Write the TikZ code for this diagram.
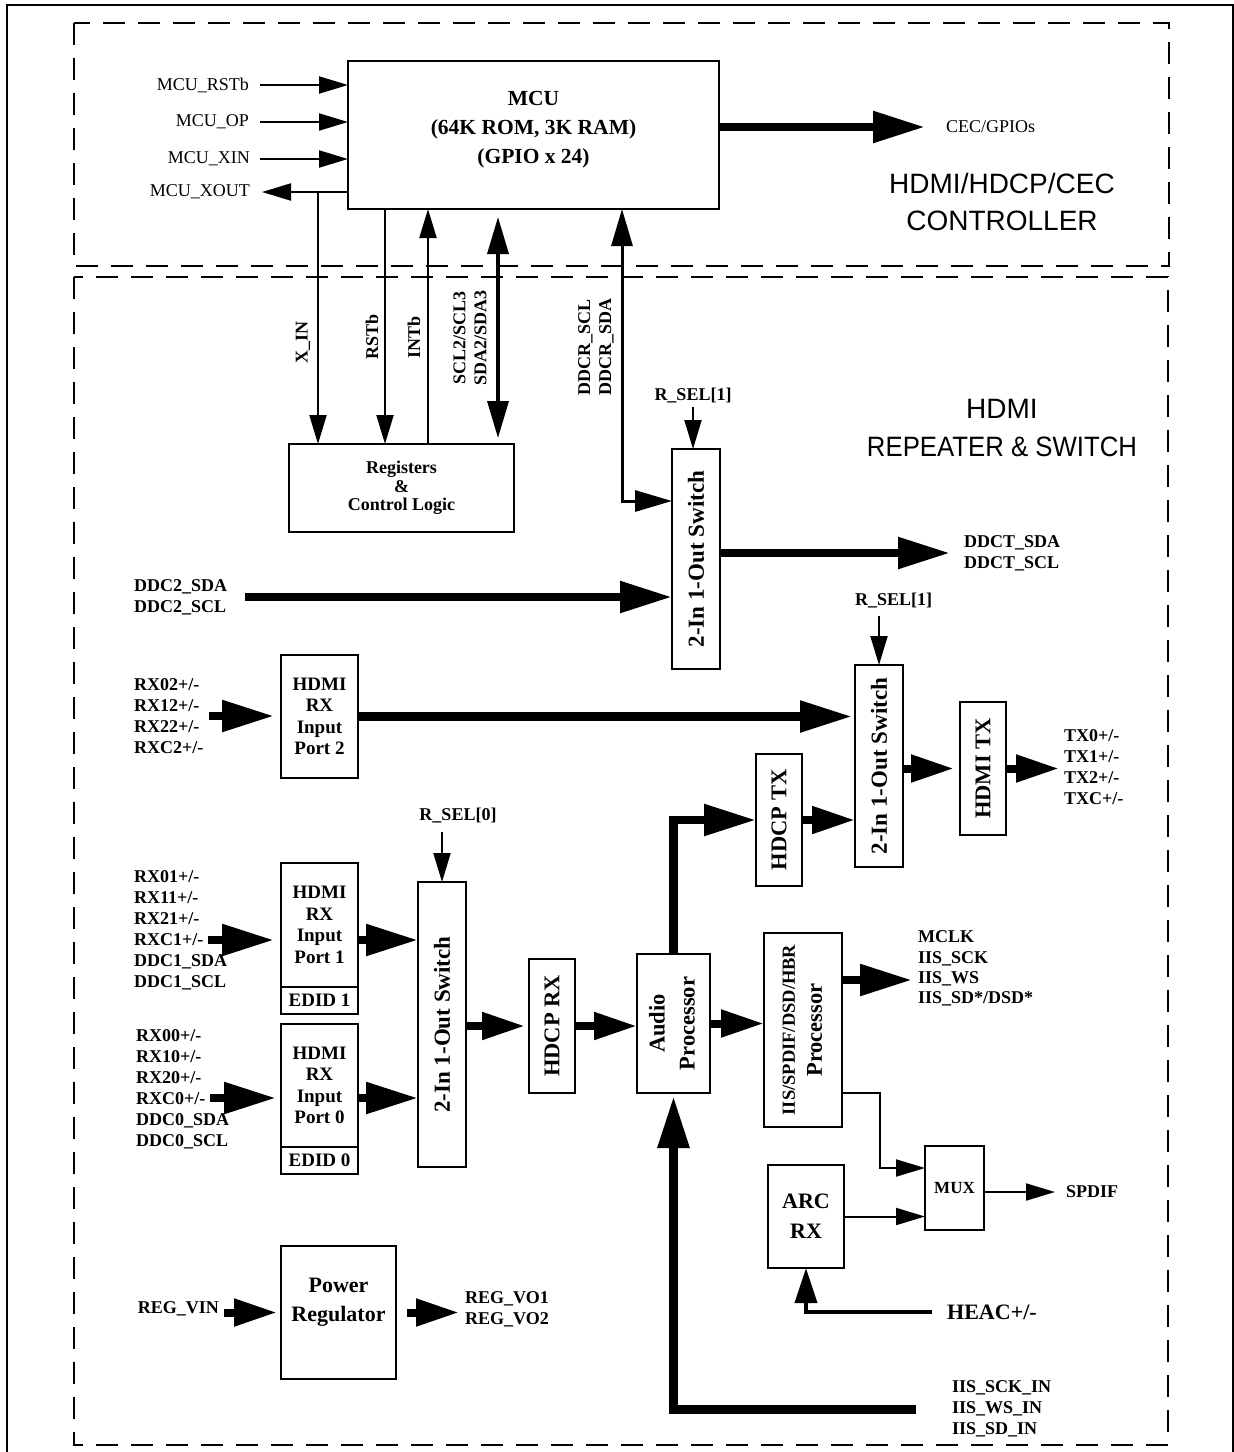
\documentclass[tikz,border=0pt]{standalone}
\usepackage{graphicx}
\usepackage{fontspec}
\setmainfont{Liberation Serif}
\newfontfamily\titlefont{Liberation Sans}
\usetikzlibrary{arrows.meta, positioning, calc}

\newcommand{\vtxt}[1]{\rotatebox{90}{\begin{tabular}{@{}c@{}}#1\end{tabular}}}

\begin{document}
\begin{tikzpicture}[
  x=1pt, y=-1pt,
  blk/.style={draw, line width=2pt, inner sep=0pt, outer sep=0pt, align=center, font=\bfseries\fontsize{19}{21.5}\selectfont},
  vblk/.style={blk, font=\bfseries\fontsize{22.5}{30}\selectfont},
  swbox/.style={blk, minimum width=48pt, font=\bfseries\fontsize{23}{28}\selectfont},
  txt/.style={inner sep=0pt, align=center},
  sig/.style={inner sep=0pt, align=left, font=\bfseries\fontsize{18}{21}\selectfont},
  rsig/.style={inner sep=0pt, align=left, font=\fontsize{18}{21}\selectfont},
  ttl/.style={inner sep=0pt, align=center, font=\titlefont\fontsize{28}{37.5}\selectfont},
  zone/.style={line width=2.5pt, dash pattern=on 22pt off 13pt},
  sarrow/.style={line width=2pt, -{Triangle[length=29pt,width=17pt]}},
  harrow/.style={line width=4pt, -{Triangle[length=35pt,width=22pt]}},
  barrow/.style={line width=3.5pt, {Triangle[length=37pt,width=21pt]}-{Triangle[length=37pt,width=21pt]}},
  marrow/.style={line width=8pt, -{Triangle[length=43pt,width=26pt]}},
  farrow/.style={line width=8.5pt, -{Triangle[length=52pt,width=30pt]}}
]
\useasboundingbox (0,0) rectangle (1234,1452);
\draw[line width=2pt] (7,5) rectangle (1233,1470);
\draw[zone] (74,23) rectangle (1169,266);
\draw[zone] (74,277) rectangle (1168,1445);

% controller
\node[blk, minimum width=371pt, minimum height=148pt] (mcu) at (533.5,135) {};
\node[txt, font=\bfseries\fontsize{21.5}{29}\selectfont] (mcu-t) at ([yshift=5pt]mcu.center) {MCU\\(64K ROM, 3K RAM)\\(GPIO x 24)};
\node[ttl] (ctl) at (1002,202) {HDMI/HDCP/CEC\\CONTROLLER};

\node[rsig, anchor=east] (mrst) at (249,85) {MCU\_RSTb};
\node[rsig, anchor=east] (mop) at (249,122) {MCU\_OP};
\node[rsig, anchor=east] (mxin) at (250,159) {MCU\_XIN};
\node[rsig, anchor=east] (mxout) at (250,192) {MCU\_XOUT};
\node[rsig, anchor=west] (cec) at (946,127) {CEC/GPIOs};

\draw[sarrow, shorten <=11pt] (mrst.east) -- (mcu.west |- mrst);
\draw[sarrow, shorten <=11pt] (mop.east) -- (mcu.west |- mop);
\draw[sarrow, shorten <=10pt] (mxin.east) -- (mcu.west |- mxin);
\draw[sarrow, shorten >=12pt] (mcu.west |- mxout) -- (mxout.east);
\draw[farrow, shorten >=21pt] (mcu.east |- cec) -- (cec.west);

% registers and host bus
\node[blk, minimum width=225pt, minimum height=88pt, font=\bfseries\fontsize{18}{18.5}\selectfont] (reg) at (401.5,488) {Registers\\\&\\Control Logic};
\coordinate (c-xin) at (318,192);
\coordinate (c-rst) at (385,0);
\coordinate (c-int) at (428,0);
\coordinate (c-scl) at (498,0);
\coordinate (c-ddcr) at (622,501);

\draw[sarrow] (c-xin) -- (c-xin |- reg.north);
\draw[sarrow] (mcu.south -| c-rst) -- (reg.north -| c-rst);
\draw[sarrow] (reg.north -| c-int) -- (mcu.south -| c-int);
\draw[barrow, shorten <=8pt, shorten >=6pt] (mcu.south -| c-scl) -- (reg.north -| c-scl);

\node[sig, rotate=90] (l-xin) at (303,342) {X\_IN};
\node[sig, rotate=90] (l-rst) at (372,337) {RSTb};
\node[sig, rotate=90] (l-int) at (414,337) {INTb};
\node[sig, rotate=90, align=center] (l-scl) at (470,338) {SCL2/SCL3\\SDA2/SDA3};
\node[sig, rotate=90, align=center] (l-ddcr) at (596,347) {DDCR\_SCL\\DDCR\_SDA};

% repeater
\node[ttl] (rep) at (1002,428) {HDMI\\\scalebox{0.92}[1]{REPEATER \& SWITCH}};

\node[swbox, minimum height=220pt] (swa) at (696,559) {\rotatebox{90}{2-In 1-Out Switch}};
\node[sig] (rsa) at (693,395) {R\_SEL[1]};
\draw[sarrow, shorten <=4pt] (rsa.south) -- (rsa.south |- swa.north);
\draw[barrow, line width=3pt] (mcu.south -| c-ddcr) -- (c-ddcr) -- (c-ddcr -| swa.west);

\node[sig, anchor=west] (ddct) at (964,553) {DDCT\_SDA\\DDCT\_SCL};
\draw[farrow, shorten >=14pt] (swa.east |- ddct) -- (ddct.west);
\node[sig, anchor=west] (ddc2) at (134,597) {DDC2\_SDA\\DDC2\_SCL};
\draw[farrow, shorten <=18pt] (ddc2.east) -- (swa.west |- ddc2);

\node[blk, minimum width=77pt, minimum height=123pt] (rx2) at (319.5,716.5) {HDMI\\RX\\Input\\Port 2};
\node[sig, anchor=west] (in2) at (134,716) {RX02+/-\\RX12+/-\\RX22+/-\\RXC2+/-};
\draw[farrow, shorten <=5pt, shorten >=7pt] (in2.east) -- (rx2.west |- in2.east);

\node[swbox, minimum height=202pt] (swb) at (879,766) {\rotatebox{90}{2-In 1-Out Switch}};
\node[sig, anchor=west] (rsb) at (855,600) {R\_SEL[1]};
\draw[sarrow, shorten <=8pt] (rsb.south -| swb.north) -- (swb.north);
\draw[farrow, shorten >=3pt] (rx2.east) -- (swb.west |- rx2.east);

\node[vblk, minimum width=46pt, minimum height=133pt] (hdmitx) at (983,768.5) {\rotatebox{90}{HDMI TX}};
\draw[marrow, shorten >=6pt] (swb.east |- hdmitx) -- (hdmitx.west);
\node[sig, anchor=west] (tx) at (1064,767.5) {TX0+/-\\TX1+/-\\TX2+/-\\TXC+/-};
\draw[marrow, shorten >=5pt] (hdmitx.east) -- (tx.west |- hdmitx.east);

\node[vblk, minimum width=46pt, minimum height=132pt] (hdcptx) at (779,820) {\rotatebox{90}{HDCP TX}};
\draw[marrow] (hdcptx.east) -- (swb.west |- hdcptx.east);

% input ports
\node[blk, minimum width=77pt, minimum height=124pt] (rx1) at (319.5,925) {HDMI\\RX\\Input\\Port 1};
\node[blk, minimum width=77pt, minimum height=27pt, below=0pt of rx1] (edid1) {EDID 1};
\node[sig, anchor=west] (in1) at (134,930) {RX01+/-\\RX11+/-\\RX21+/-\\RXC1+/-\\DDC1\_SDA\\DDC1\_SCL};
\coordinate (in1a) at (208,940);
\draw[farrow, shorten >=7pt] (in1a) -- (rx1.west |- in1a);

\node[blk, minimum width=77pt, minimum height=123pt] (rx0) at (319.5,1085.5) {HDMI\\RX\\Input\\Port 0};
\node[blk, minimum width=77pt, minimum height=27pt, below=0pt of rx0] (edid0) {EDID 0};
\node[sig, anchor=west] (in0) at (136,1089.5) {RX00+/-\\RX10+/-\\RX20+/-\\RXC0+/-\\DDC0\_SDA\\DDC0\_SCL};
\coordinate (in0a) at (210,1098);
\draw[farrow, shorten >=5pt] (in0a) -- (rx0.west |- in0a);

\node[swbox, minimum height=285pt] (swc) at (442,1024.5) {\rotatebox{90}{2-In 1-Out Switch}};
\node[sig] (rsc) at (458,815) {R\_SEL[0]};
\draw[sarrow, shorten <=9pt] (rsc.south -| swc.north) -- (swc.north);
\draw[farrow] (rx1.east |- in1a) -- (swc.west |- in1a);
\draw[farrow] (rx0.east |- in0a) -- (swc.west |- in0a);

% audio path
\node[vblk, minimum width=46pt, minimum height=134pt] (hdcprx) at (552,1026) {\rotatebox{90}{HDCP RX}};
\draw[marrow, shorten >=4pt] (swc.east |- hdcprx) -- (hdcprx.west);
\node[vblk, minimum width=73pt, minimum height=139pt] (audio) at (673.5,1023.5) {\vtxt{Audio\\Processor}};
\draw[marrow] (hdcprx.east) -- (audio.west |- hdcprx.east);
\draw[farrow] (audio.north) |- (hdcptx.west);

\node[vblk, minimum width=78pt, minimum height=194pt, font=\bfseries\fontsize{22.5}{27}\selectfont] (iisp) at (803,1030) {\vtxt{{\fontsize{18.5}{27}\selectfont IIS/SPDIF/DSD/HBR}\\Processor}};
\draw[marrow] (audio.east) -- (iisp.west |- audio.east);

\node[sig, anchor=west, font=\bfseries\fontsize{18}{20.3}\selectfont] (mclk) at (918,968.5) {MCLK\\IIS\_SCK\\IIS\_WS\\IIS\_SD*/DSD*};
\coordinate (mclk-a) at (912,980);
\draw[farrow] (iisp.east |- mclk-a) -- (mclk-a);

\node[blk, minimum width=59pt, minimum height=84pt, font=\bfseries\fontsize{17}{20}\selectfont] (mux) at (954.5,1188) {MUX};
\node[blk, minimum width=76pt, minimum height=103pt, font=\bfseries\fontsize{22}{30}\selectfont] (arc) at (806,1216.5) {ARC\\RX};
\coordinate (mux-a) at ($(mux.west)+(-45,-20)$);
\draw[sarrow] ($(iisp.south east)+(0,-34)$) -| (mux-a) -- (mux.west |- mux-a);
\draw[sarrow] (arc.east) -- (mux.west |- arc.east);

\node[sig, anchor=west] (spdif) at (1066,1192) {SPDIF};
\draw[sarrow, shorten >=11pt] (mux.east |- spdif) -- (spdif.west);

\node[sig, anchor=west, font=\bfseries\fontsize{22}{26}\selectfont] (heac) at (947,1312) {HEAC+/-};
\draw[harrow, shorten <=15pt] (heac.west) -| (arc.south);

\node[sig, anchor=west] (iisin) at (952,1409) {IIS\_SCK\_IN\\IIS\_WS\_IN\\IIS\_SD\_IN};
\draw[farrow, line width=9pt, shorten <=36pt, shorten >=3pt] (iisin.west) -| (audio.south);

% power
\node[blk, minimum width=115pt, minimum height=133pt] (pwr) at (338.5,1312.5) {};
\node[txt, font=\bfseries\fontsize{22}{29}\selectfont] (pwr-t) at ([yshift=10pt]pwr.center) {Power\\Regulator};
\node[sig, anchor=east] (vin) at (219,1309) {REG\_VIN};
\draw[marrow, shorten <=5pt, shorten >=4pt] (vin.east |- pwr.west) -- (pwr.west);
\node[sig, anchor=west] (vo) at (465,1309) {REG\_VO1\\REG\_VO2};
\draw[marrow, shorten <=11pt, shorten >=6pt] (pwr.east) -- (vo.west |- pwr.east);
\end{tikzpicture}
\end{document}
